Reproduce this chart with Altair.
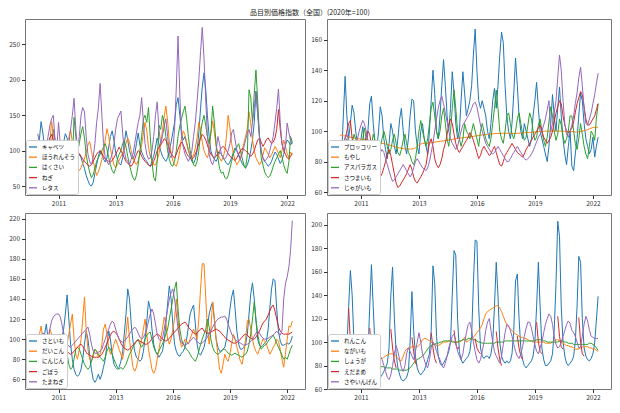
import altair as alt
import pandas as pd

# ---------------- data ----------------
months = pd.date_range("2010-01-01", periods=148, freq="MS").strftime("%Y-%m-%dT00:00:00").tolist()

# panel 1
p1_names = ["キャベツ", "ほうれんそう", "はくさい", "ねぎ", "レタス"]
cabbage = [
    100, 118, 141, 125, 105, 95, 88, 92, 110, 130, 115, 98,
    92, 88, 100, 112, 124, 118, 100, 90, 85, 80, 82, 88,
    95, 90, 82, 75, 65, 58, 52, 50, 55, 68, 80, 92,
    100, 95, 88, 84, 90, 105, 120, 128, 115, 98, 88, 82,
    80, 90, 110, 128, 115, 100, 92, 88, 95, 110, 125, 108,
    98, 92, 88, 85, 80, 78, 85, 92, 105, 118, 110, 100,
    92, 88, 85, 90, 100, 112, 125, 140, 165, 175, 150, 125,
    115, 120, 110, 100, 92, 85, 82, 88, 100, 125, 160, 190,
    210, 185, 150, 120, 100, 92, 88, 85, 90, 98, 95, 90,
    86, 82, 80, 84, 90, 98, 104, 100, 95, 88, 82, 78,
    76, 80, 88, 100, 115, 140, 184, 155, 120, 100, 90, 85,
    82, 78, 80, 85, 92, 98, 95, 88, 82, 86, 95, 108,
    115, 112, 108, 112,
]
spinach = [
    92, 98, 108, 115, 110, 100, 95, 110, 141, 125, 105, 95,
    88, 82, 78, 75, 80, 95, 118, 130, 112, 92, 80, 75,
    72, 76, 82, 88, 98, 108, 113, 100, 86, 74, 65, 70,
    78, 88, 100, 115, 131, 120, 102, 90, 80, 76, 80, 86,
    92, 96, 102, 110, 118, 112, 100, 90, 84, 80, 86, 95,
    108, 125, 140, 128, 105, 92, 86, 80, 80, 86, 96, 110,
    128, 148, 163, 142, 112, 96, 86, 80, 78, 86, 100, 118,
    128, 122, 112, 102, 95, 90, 94, 104, 118, 140, 130, 112,
    100, 94, 90, 98, 125, 142, 126, 106, 96, 90, 85, 90,
    100, 122, 150, 132, 110, 96, 86, 80, 84, 90, 100, 110,
    120, 132, 155, 138, 115, 100, 90, 85, 80, 84, 94, 104,
    100, 95, 90, 94, 100, 106, 102, 96, 90, 100, 115, 106,
    96, 90, 98, 95,
]
hakusai = [
    95, 100, 108, 110, 100, 90, 85, 95, 105, 100, 92, 88,
    95, 105, 113, 100, 85, 70, 62, 66, 80, 147, 120, 98,
    110, 125, 134, 118, 95, 80, 70, 62, 66, 75, 85, 90,
    95, 100, 105, 110, 102, 90, 80, 72, 68, 75, 88, 95,
    100, 110, 115, 105, 92, 80, 70, 62, 58, 65, 80, 100,
    120, 145, 150, 140, 161, 120, 85, 62, 57, 85, 136, 130,
    150, 140, 120, 100, 88, 80, 78, 85, 100, 120, 135, 145,
    155, 163, 145, 120, 100, 90, 80, 78, 85, 100, 125, 140,
    150, 135, 120, 110, 125, 163, 140, 110, 90, 75, 68, 70,
    62, 60, 65, 75, 85, 95, 100, 105, 110, 100, 90, 80,
    75, 95, 186, 175, 140, 180, 214, 170, 120, 90, 80, 70,
    65, 62, 64, 70, 78, 85, 90, 95, 100, 92, 80, 72,
    68, 85, 120, 112,
]
negi = [
    98, 95, 92, 95, 100, 105, 110, 118, 123, 115, 105, 100,
    98, 100, 103, 100, 95, 90, 88, 86, 85, 88, 92, 95,
    96, 92, 88, 85, 82, 80, 78, 80, 85, 90, 95, 98,
    100, 96, 92, 88, 86, 85, 84, 86, 90, 95, 100, 105,
    100, 95, 90, 85, 82, 80, 78, 82, 88, 95, 100, 98,
    92, 88, 85, 82, 80, 78, 80, 85, 92, 100, 105, 108,
    112, 117, 115, 110, 102, 96, 92, 90, 95, 102, 108, 112,
    108, 102, 96, 92, 90, 88, 90, 95, 102, 110, 118, 123,
    120, 115, 108, 100, 95, 92, 90, 92, 96, 100, 104, 106,
    104, 100, 96, 92, 90, 88, 86, 90, 95, 100, 103, 102,
    100, 98, 95, 92, 95, 100, 108, 115, 118, 112, 106, 110,
    116, 118, 114, 110, 112, 118, 130, 158, 130, 110, 100, 95,
    90, 88, 92, 96,
]
lettuce = [
    124, 110, 95, 88, 92, 105, 120, 135, 145, 150, 115, 100,
    140, 110, 90, 80, 85, 95, 110, 130, 150, 174, 130, 100,
    120, 150, 161, 155, 120, 95, 85, 80, 90, 110, 140, 160,
    195, 150, 110, 90, 85, 80, 88, 95, 110, 130, 145, 150,
    156, 125, 100, 88, 85, 80, 88, 95, 110, 125, 140, 150,
    175, 140, 110, 95, 88, 90, 100, 120, 150, 169, 130, 110,
    120, 135, 145, 120, 95, 90, 100, 130, 190, 262, 180, 120,
    105, 95, 90, 85, 90, 100, 120, 140, 170, 200, 240, 274,
    230, 170, 120, 95, 85, 80, 88, 100, 120, 110, 95, 90,
    88, 92, 100, 110, 125, 130, 115, 100, 92, 88, 95, 105,
    115, 125, 130, 120, 140, 160, 183, 150, 120, 100, 90, 85,
    88, 92, 100, 110, 120, 140, 160, 187, 140, 110, 100, 105,
    139, 125, 115, 110,
]

# panel 2
p2_names = ["ブロッコリー", "もやし", "アスパラガス", "さつまいも", "じゃがいも"]
broccoli = [
    92, 85, 110, 136, 110, 95, 105, 117, 112, 100, 92, 88,
    95, 103, 90, 85, 100, 118, 123, 105, 92, 88, 100, 116,
    110, 95, 88, 82, 92, 105, 100, 90, 85, 95, 108, 115,
    100, 90, 85, 95, 110, 121, 120, 100, 90, 85, 100, 105,
    95, 90, 85, 100, 120, 140, 125, 100, 95, 110, 130, 147,
    130, 110, 100, 115, 139, 125, 105, 95, 100, 120, 139, 125,
    110, 115, 120, 130, 150, 167, 140, 120, 115, 120, 115, 110,
    100, 95, 105, 120, 128, 115, 130, 150, 165, 158, 130, 110,
    100, 95, 105, 125, 148, 130, 110, 100, 95, 105, 100, 95,
    90, 95, 110, 120, 132, 115, 100, 95, 90, 85, 80, 90,
    105, 124, 110, 100, 115, 129, 110, 95, 85, 78, 90, 100,
    77, 74, 85, 95, 110, 125, 120, 105, 95, 90, 85, 88,
    96, 83, 90, 96,
]
moyashi = [
    97.5, 97.2, 97, 96.8, 96.5, 96.3, 96, 95.8, 95.5, 95.3, 95, 95,
    94.8, 94.6, 94.5, 94.3, 94, 93.5, 93, 92.5, 92.3, 92.2, 92, 92,
    92, 91.8, 91.6, 91.4, 91, 90.6, 90.2, 89.8, 89.5, 89.2, 89, 88.8,
    88.5, 88.4, 88.3, 88.2, 88.2, 88.3, 88.5, 89, 90, 91, 91.5, 92,
    92, 92, 92, 92.2, 92.4, 92.6, 92.8, 93, 93.2, 93.4, 93.5, 93.6,
    93.8, 94, 94.2, 94.4, 94.6, 94.8, 95, 95.2, 95.4, 95.5, 95.6, 95.8,
    96, 96, 96.2, 96.4, 96.6, 96.8, 97, 97.2, 97.4, 97.5, 97.6, 97.8,
    98, 98, 98.2, 98.2, 98.4, 98.4, 98.5, 98.5, 98.6, 98.6, 98.6, 98.6,
    98.5, 98.5, 98.4, 98.4, 98.5, 98.6, 98.7, 98.8, 98.9, 99, 99, 99.1,
    99.2, 99.3, 99.4, 99.5, 99.6, 99.7, 99.8, 99.9, 100, 100, 100, 100,
    100, 100, 100.1, 100.1, 100, 100, 100, 99.9, 99.9, 99.8, 99.8, 99.7,
    99.7, 99.6, 99.5, 99.5, 99.6, 99.8, 100, 100.3, 100.6, 101, 101.5, 102,
    102.3, 102.5, 102.6, 102.6,
]
asparagus = [
    92, 85, 80, 88, 95, 90, 85, 92, 98, 95, 88, 85,
    90, 95, 102, 95, 88, 85, 90, 98, 94, 88, 85, 90,
    95, 100, 96, 90, 85, 88, 94, 98, 92, 86, 84, 88,
    94, 98, 92, 86, 84, 80, 78, 82, 90, 100, 107, 100,
    95, 90, 95, 105, 115, 119, 110, 100, 95, 100, 110, 115,
    105, 95, 90, 100, 115, 127, 115, 100, 95, 90, 95, 105,
    100, 98, 95, 100, 105, 100, 95, 90, 100, 105, 100, 95,
    92, 90, 95, 105, 115, 127, 115, 100, 95, 92, 100, 110,
    112, 105, 98, 95, 100, 108, 112, 105, 98, 94, 96, 104,
    112, 108, 100, 94, 96, 104, 108, 100, 94, 90, 96, 106,
    116, 110, 100, 94, 98, 108, 104, 96, 92, 95, 100, 110,
    110, 100, 92, 88, 95, 105, 98, 90, 85, 82, 90, 100,
    98, 94, 108, 118,
]
satsumaimo = [
    82, 85, 90, 95, 100, 105, 107, 95, 88, 82, 80, 82,
    85, 88, 92, 96, 100, 98, 90, 82, 75, 70, 68, 70,
    72, 76, 80, 85, 88, 84, 78, 72, 66, 63, 64, 66,
    68, 70, 72, 75, 78, 75, 70, 67, 66, 68, 70, 72,
    75, 78, 85, 92, 95, 90, 82, 78, 76, 78, 82, 88,
    92, 98, 104, 108, 105, 98, 92, 88, 86, 88, 90, 92,
    94, 96, 99, 97, 94, 90, 86, 82, 84, 88, 90, 88,
    86, 84, 85, 88, 90, 86, 82, 78, 77, 80, 84, 86,
    88, 90, 92, 90, 88, 86, 85, 84, 83, 85, 88, 90,
    92, 94, 96, 98, 100, 102, 104, 100, 96, 94, 92, 94,
    96, 100, 106, 112, 116, 120, 118, 110, 104, 100, 99, 100,
    102, 106, 112, 118, 122, 126, 124, 116, 108, 104, 104, 106,
    108, 110, 114, 118,
]
jagaimo = [
    90, 88, 92, 96, 98, 94, 88, 84, 86, 90, 95, 100,
    104, 107, 105, 100, 94, 88, 82, 78, 76, 78, 82, 86,
    88, 86, 82, 78, 74, 70, 67, 68, 70, 72, 74, 76,
    78, 76, 74, 72, 70, 72, 76, 80, 82, 80, 78, 76,
    75, 74, 76, 80, 86, 92, 100, 108, 115, 120, 123, 118,
    112, 106, 100, 95, 92, 90, 88, 90, 95, 100, 104, 106,
    108, 110, 112, 115, 118, 119, 116, 110, 104, 100, 96, 92,
    90, 88, 86, 85, 86, 88, 90, 88, 86, 84, 82, 80,
    80, 82, 84, 86, 88, 90, 88, 86, 84, 82, 81, 82,
    83, 85, 87, 90, 93, 96, 98, 100, 104, 108, 114, 120,
    100, 105, 112, 120, 135, 150, 140, 120, 105, 98, 96, 100,
    104, 110, 118, 125, 135, 142, 130, 115, 105, 104, 108, 112,
    118, 124, 131, 138,
]

# panel 3
p3_names = ["さといも", "だいこん", "にんじん", "ごぼう", "たまねぎ"]
satoimo = [
    100, 95, 92, 98, 105, 115, 100, 90, 85, 80, 85, 90,
    92, 95, 100, 110, 125, 144, 120, 95, 80, 70, 65, 63,
    65, 70, 80, 95, 108, 100, 85, 70, 60, 57, 60, 65,
    60, 65, 72, 80, 95, 108, 100, 85, 75, 72, 70, 72,
    78, 88, 105, 125, 150, 140, 115, 98, 88, 82, 80, 78,
    80, 88, 100, 118, 138, 130, 110, 95, 88, 85, 82, 85,
    88, 98, 115, 135, 153, 140, 115, 95, 88, 84, 83, 86,
    88, 92, 100, 112, 125, 130, 134, 115, 95, 86, 84, 88,
    92, 100, 112, 125, 132, 137, 120, 100, 92, 88, 88, 90,
    92, 100, 115, 130, 142, 149, 130, 108, 95, 90, 90, 92,
    95, 105, 125, 145, 156, 140, 118, 100, 94, 92, 94, 96,
    98, 110, 130, 150, 160, 158, 130, 108, 98, 94, 94, 95,
    96, 95, 97, 103,
]
daikon = [
    95, 105, 113, 100, 90, 85, 95, 110, 105, 95, 90, 88,
    80, 75, 72, 78, 85, 95, 105, 115, 125, 100, 85, 80,
    90, 100, 120, 142, 110, 90, 80, 78, 82, 90, 88, 82,
    85, 95, 110, 115, 105, 92, 85, 88, 95, 100, 95, 90,
    85, 80, 90, 105, 122, 100, 85, 72, 68, 72, 80, 90,
    100, 110, 120, 105, 90, 80, 70, 66, 70, 80, 90, 100,
    110, 122, 115, 100, 95, 100, 110, 120, 140, 120, 100, 92,
    95, 100, 98, 95, 100, 105, 110, 105, 100, 120, 150, 175,
    175, 140, 110, 95, 110, 137, 120, 100, 85, 70, 66, 75,
    85, 80, 78, 85, 95, 105, 100, 92, 85, 78, 75, 85,
    100, 118, 120, 110, 100, 92, 88, 85, 90, 95, 100, 98,
    95, 90, 85, 88, 92, 95, 100, 98, 90, 80, 72, 85,
    100, 113, 112, 118,
]
ninjin = [
    95, 100, 105, 100, 95, 90, 95, 105, 100, 95, 92, 90,
    95, 100, 103, 107, 95, 85, 75, 70, 72, 80, 90, 92,
    90, 85, 80, 75, 72, 70, 72, 78, 85, 90, 88, 85,
    82, 80, 78, 82, 88, 92, 90, 85, 80, 76, 72, 70,
    72, 70, 72, 75, 80, 85, 88, 92, 95, 98, 100, 95,
    92, 95, 100, 104, 106, 107, 100, 92, 88, 85, 88, 92,
    95, 100, 105, 110, 120, 130, 140, 150, 157, 130, 110, 100,
    95, 92, 90, 88, 85, 82, 80, 78, 82, 88, 95, 100,
    105, 110, 120, 112, 100, 92, 88, 86, 85, 86, 88, 90,
    90, 88, 86, 85, 84, 85, 86, 85, 84, 83, 82, 84,
    85, 88, 95, 105, 120, 137, 120, 105, 95, 90, 92, 94,
    95, 98, 100, 102, 104, 100, 96, 92, 88, 84, 80, 82,
    80, 85, 90, 94,
]
gobo = [
    95, 94, 93, 92, 93, 95, 96, 95, 94, 93, 92, 93,
    94, 95, 94, 92, 90, 88, 86, 85, 86, 88, 90, 92,
    94, 95, 93, 90, 87, 85, 84, 83, 82, 82, 82, 82,
    83, 85, 88, 92, 96, 100, 104, 107, 108, 106, 104, 100,
    96, 93, 91, 90, 89, 90, 92, 94, 96, 98, 99, 98,
    97, 96, 95, 95, 96, 98, 100, 102, 104, 105, 104, 102,
    100, 99, 98, 99, 101, 103, 105, 107, 109, 111, 113, 115,
    116, 117, 115, 112, 110, 108, 106, 105, 106, 108, 110, 111,
    108, 107, 106, 106, 107, 108, 109, 110, 109, 108, 106, 104,
    102, 100, 99, 98, 97, 96, 96, 97, 98, 100, 102, 104,
    105, 104, 102, 101, 100, 100, 102, 105, 108, 112, 116, 118,
    120, 124, 128, 132, 134, 128, 120, 112, 108, 106, 105, 105,
    105, 105, 106, 107,
]
tamanegi = [
    96, 100, 104, 106, 105, 103, 100, 110, 118, 122, 124, 125,
    125, 122, 115, 105, 98, 95, 93, 92, 94, 96, 98, 100,
    102, 104, 106, 108, 110, 112, 105, 95, 88, 86, 86, 87,
    88, 90, 95, 100, 105, 110, 115, 118, 116, 110, 104, 100,
    98, 97, 98, 100, 102, 105, 108, 110, 112, 110, 106, 102,
    100, 102, 105, 110, 118, 125, 130, 125, 115, 105, 100, 98,
    100, 110, 120, 130, 140, 146, 150, 140, 125, 110, 100, 96,
    95, 94, 95, 96, 98, 100, 102, 100, 98, 96, 95, 96,
    98, 100, 102, 105, 108, 112, 115, 118, 120, 121, 122, 122,
    123, 120, 115, 110, 105, 102, 100, 98, 97, 96, 95, 94,
    94, 95, 96, 98, 100, 103, 106, 108, 106, 103, 101, 100,
    100, 101, 102, 103, 104, 106, 108, 106, 104, 108, 140, 155,
    162, 172, 188, 218,
]

# panel 4
p4_names = ["れんこん", "ながいも", "しょうが", "えだまめ", "さやいんげん"]
renkon = [
    90, 88, 86, 88, 95, 130, 161, 140, 100, 85, 80, 78,
    76, 75, 78, 82, 90, 130, 166, 130, 95, 82, 72, 70,
    72, 75, 78, 82, 95, 140, 164, 120, 90, 78, 72, 68,
    67, 68, 70, 75, 100, 143, 110, 88, 78, 74, 72, 74,
    76, 80, 85, 90, 110, 165, 150, 105, 88, 82, 80, 82,
    85, 88, 92, 100, 140, 178, 174, 120, 92, 85, 82, 84,
    86, 88, 92, 105, 150, 187, 186, 130, 95, 88, 86, 88,
    88, 86, 90, 100, 130, 168, 140, 100, 88, 84, 82, 84,
    82, 84, 90, 110, 152, 158, 120, 95, 85, 80, 78, 80,
    82, 84, 88, 100, 130, 168, 130, 95, 85, 80, 80, 82,
    84, 90, 110, 150, 203, 190, 130, 100, 88, 82, 80, 82,
    84, 88, 100, 130, 173, 168, 120, 95, 88, 85, 84, 86,
    90, 100, 118, 139,
]
nagaimo = [
    84, 84, 83, 83, 82, 82, 82, 82, 83, 83, 84, 84,
    84, 85, 85, 86, 86, 87, 87, 88, 88, 88, 87, 87,
    86, 87, 88, 89, 90, 90, 90, 89, 88, 86, 84, 84,
    88, 92, 94, 95, 95, 96, 96, 96, 96, 97, 99, 102,
    103, 103, 102, 101, 100, 99, 98, 97, 97, 98, 99, 100,
    100, 100, 101, 101, 101, 100, 100, 100, 100, 101, 102, 104,
    100, 101, 102, 103, 104, 106, 108, 110, 112, 115, 120, 124,
    126, 127, 128, 129, 130, 131, 131, 129, 126, 122, 118, 115,
    113, 111, 110, 108, 107, 106, 105, 104, 104, 103, 103, 102,
    101, 101, 100, 100, 100, 100, 100, 100, 100, 99, 99, 99,
    99, 100, 101, 102, 102, 101, 100, 99, 98, 97, 97, 96,
    96, 95, 94, 94, 94, 95, 96, 96, 96, 96, 95, 95,
    94, 94, 93, 92,
]
shoga = [
    84, 84, 83, 83, 83, 83, 82, 82, 82, 82, 82, 82,
    82, 82, 82, 81, 81, 81, 80, 80, 80, 80, 79, 79,
    79, 79, 78, 78, 78, 78, 77, 77, 77, 77, 76, 76,
    76, 76, 76, 77, 78, 80, 82, 84, 85, 86, 87, 88,
    90, 92, 94, 96, 97, 98, 98, 99, 99, 100, 100, 101,
    101, 101, 101, 101, 100, 100, 100, 100, 101, 101, 102, 102,
    102, 103, 103, 103, 102, 102, 101, 100, 100, 99, 99, 99,
    99, 99, 99, 99, 99, 100, 100, 100, 100, 100, 101, 101,
    101, 101, 101, 101, 101, 101, 101, 101, 101, 101, 101, 101,
    101, 101, 101, 101, 102, 102, 102, 102, 101, 101, 100, 100,
    100, 100, 100, 100, 100, 101, 101, 101, 100, 100, 99, 99,
    99, 98, 98, 98, 98, 98, 98, 98, 98, 98, 99, 99,
    98, 97, 95, 93,
]
N = None
edamame = [
    N, N, N, N, N, 129, 100, 86, 82, N, N, N,
    N, N, N, N, N, 112, 95, 85, 80, N, N, N,
    N, N, N, N, N, 111, 95, 84, 78, N, N, N,
    N, N, N, N, N, 104, 92, 82, 80, N, N, N,
    N, N, N, N, 108, 95, 86, 82, N, N, N, N,
    N, N, N, N, N, 110, 98, 94, 96, N, N, N,
    N, N, N, N, N, 103, 95, 92, 90, N, N, N,
    N, N, N, N, N, 109, 95, 85, 80, N, N, N,
    N, N, N, N, N, 105, 95, 88, 85, N, N, N,
    N, N, N, N, 117, 100, 92, 90, N, N, N, N,
    N, N, N, N, 122, 105, 96, 94, N, N, N, N,
    N, N, N, N, 121, 100, 90, 88, N, N, N, N,
    N, N, N, N,
]
sayaingen = [
    92, 96, 92, 88, 85, 90, 95, 103, 100, 95, 92, 95,
    96, 94, 90, 86, 82, 80, 85, 92, 98, 95, 90, 88,
    85, 80, 75, 70, 68, 72, 80, 90, 97, 92, 85, 78,
    75, 80, 90, 95, 92, 88, 85, 92, 100, 108, 100, 90,
    85, 80, 78, 85, 95, 100, 98, 92, 88, 85, 80, 78,
    82, 88, 95, 100, 105, 107, 100, 92, 88, 85, 90, 100,
    108, 115, 117, 110, 100, 92, 85, 82, 85, 92, 100, 110,
    117, 120, 110, 100, 92, 88, 85, 82, 88, 98, 108, 115,
    114, 110, 105, 98, 92, 88, 86, 90, 96, 105, 112, 117,
    117, 112, 105, 98, 92, 90, 95, 100, 108, 115, 120, 124,
    122, 115, 105, 98, 95, 96, 100, 105, 110, 115, 118, 116,
    110, 108, 105, 100, 95, 96, 105, 115, 122, 118, 110, 105,
    104, 103, 103, 103,
]

TAB = ["#1f77b4", "#ff7f0e", "#2ca02c", "#d62728", "#9467bd"]
x_ticks = [alt.DateTime(year=2011, month=1, date=1), alt.DateTime(year=2013, month=10, date=1),
           alt.DateTime(year=2016, month=7, date=1), alt.DateTime(year=2019, month=4, date=1),
           alt.DateTime(year=2022, month=1, date=1)]
x_dom = [alt.DateTime(year=2009, month=5, date=22), alt.DateTime(year=2022, month=11, date=10)]


def panel(names, series, ydom, yticks, w, h):
    rows = []
    for name, vals in zip(names, series):
        for d, v in zip(months, vals):
            rows.append({"date": d, "item": name, "value": v})
    df = pd.DataFrame(rows)
    return alt.Chart(df).mark_line(strokeWidth=1).encode(
        x=alt.X("date:T", title=None,
                scale=alt.Scale(domain=x_dom, nice=False),
                axis=alt.Axis(values=x_ticks, format="%Y", labelFlush=False)),
        y=alt.Y("value:Q", title=None,
                scale=alt.Scale(domain=ydom, nice=False, zero=False),
                axis=alt.Axis(values=yticks)),
        color=alt.Color("item:N", scale=alt.Scale(domain=names, range=TAB),
                        legend=alt.Legend(title=None, orient="bottom-left", offset=1,
                                          fillColor="white", strokeColor="#cccccc",
                                          padding=2, cornerRadius=2, symbolType="stroke",
                                          symbolSize=64, symbolStrokeWidth=1.3,
                                          labelFontSize=5.5, rowPadding=1.2,
                                          labelOffset=4, labelLimit=120)),
    ).properties(width=w, height=h)


W1, W2, H = 280, 284, 176
c1 = panel(p1_names, [cabbage, spinach, hakusai, negi, lettuce], [37.4, 286], [50, 100, 150, 200, 250], W1, H)
c2 = panel(p2_names, [broccoli, moyashi, asparagus, satsumaimo, jagaimo], [58.1, 173.6], [60, 80, 100, 120, 140, 160], W2, H)
c3 = panel(p3_names, [satoimo, daikon, ninjin, gobo, tamanegi], [50.4, 225.5], [60, 80, 100, 120, 140, 160, 180, 200, 220], W1, H)
c4 = panel(p4_names, [renkon, nagaimo, shoga, edamame, sayaingen], [60, 210], [60, 80, 100, 120, 140, 160, 180, 200], W2, H)

chart = alt.vconcat(
    alt.hconcat(c1, c2, spacing=4).resolve_scale(color="independent"),
    alt.hconcat(c3, c4, spacing=4).resolve_scale(color="independent"),
    spacing=4,
).resolve_scale(color="independent").properties(
    title=alt.TitleParams("品目別価格指数（全国）(2020年=100)", fontSize=7, anchor="middle",
                          fontWeight="normal", offset=3, color="#222"),
    padding={"left": 0, "top": 0, "right": 0, "bottom": 0},
).configure(font="Noto Sans CJK JP").configure_view(
    stroke="#777777", strokeWidth=1
).configure_axis(
    labelFontSize=6.5, tickSize=3.5, domain=False, grid=False, labelPadding=2,
    tickColor="#333333", labelColor="#333333"
)

chart.save("out.html", embed_options={"renderer": "svg", "actions": False})
